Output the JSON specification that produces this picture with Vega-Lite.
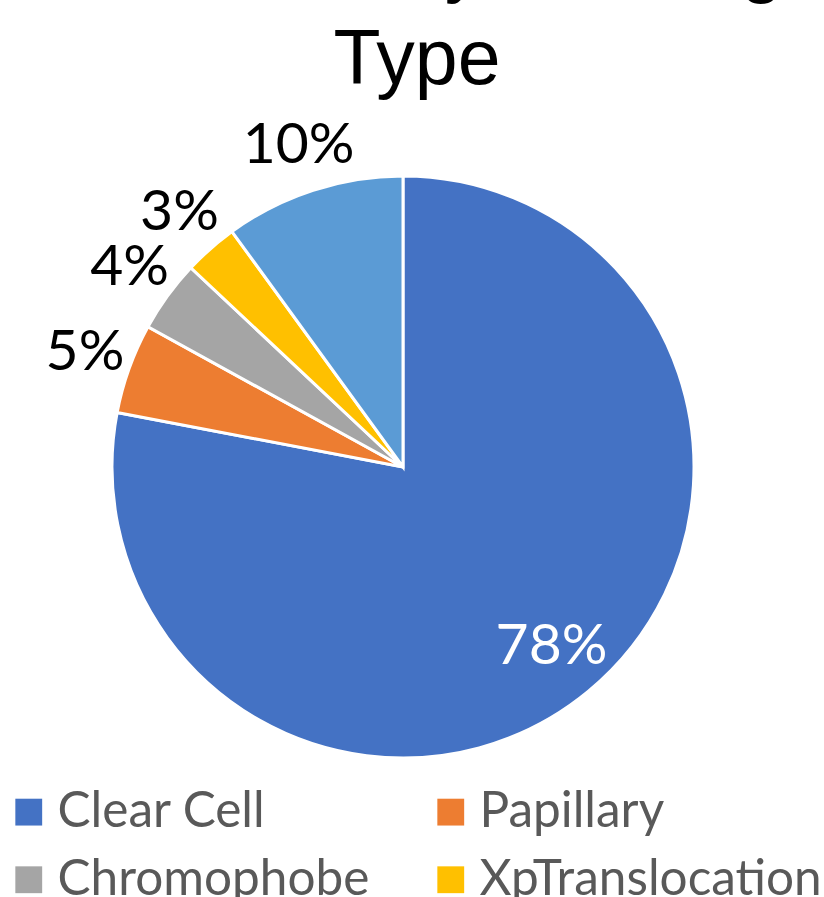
{
  "$schema": "https://vega.github.io/schema/vega-lite/v6.json",
  "width": 582,
  "height": 582,
  "autosize": "none",
  "padding": {"left": 112, "top": 176, "right": 130, "bottom": 139},
  "background": "white",
  "title": {
    "text": ["Distribution by Histologic", "Type"],
    "font": "Liberation Sans",
    "fontSize": 77,
    "fontWeight": "normal",
    "color": "black",
    "lineHeight": 96,
    "anchor": "middle",
    "dx": 14,
    "offset": 17
  },
  "data": {
    "values": [
      {"type": "Clear Cell", "value": 78, "label": "78%", "rank": 1},
      {"type": "Papillary", "value": 5, "label": "5%", "rank": 2},
      {"type": "Chromophobe", "value": 4, "label": "4%", "rank": 3},
      {"type": "XpTranslocation", "value": 3, "label": "3%", "rank": 4},
      {"type": "Other", "value": 10, "label": "10%", "rank": 5}
    ]
  },
  "encoding": {
    "theta": {"field": "value", "type": "quantitative", "stack": true},
    "order": {"field": "rank", "type": "quantitative"}
  },
  "layer": [
    {
      "mark": {"type": "arc", "stroke": "white", "strokeWidth": 3},
      "encoding": {
        "color": {
          "field": "type",
          "type": "nominal",
          "scale": {
            "domain": ["Clear Cell", "Papillary", "Chromophobe", "XpTranslocation", "Other"],
            "range": ["#4472C4", "#ED7D31", "#A5A5A5", "#FFC000", "#5B9BD5"]
          },
          "legend": {
            "orient": "none",
            "direction": "horizontal",
            "legendX": -108,
            "legendY": 611,
            "columns": 2,
            "title": null,
            "symbolType": "square",
            "symbolSize": 720,
            "symbolStrokeWidth": 0,
            "symbolOpacity": 1,
            "labelFont": "Lato",
            "labelFontSize": 49.5,
            "labelColor": "#595959",
            "labelOffset": 4,
            "labelLimit": 1000,
            "columnPadding": 56,
            "rowPadding": 17
          }
        }
      }
    },
    {
      "mark": {"type": "text", "font": "Lato", "fontSize": 57, "radius": 338, "color": "black"},
      "encoding": {
        "text": {"condition": {"test": "datum.value < 50", "field": "label"}, "value": ""}
      }
    },
    {
      "mark": {"type": "text", "font": "Lato", "fontSize": 57, "radius": 233, "color": "white"},
      "encoding": {
        "text": {"condition": {"test": "datum.value >= 50", "field": "label"}, "value": ""}
      }
    }
  ],
  "config": {"view": {"stroke": null}}
}
